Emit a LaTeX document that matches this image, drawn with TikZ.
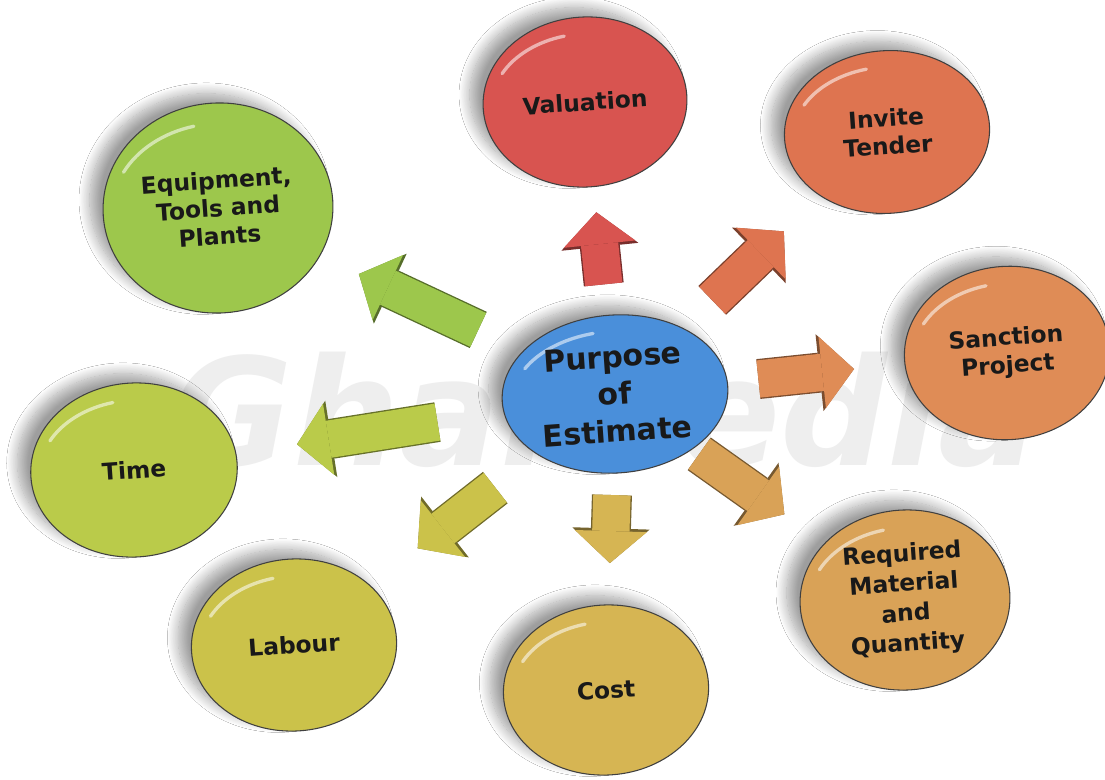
\documentclass[tikz,border=0pt]{standalone}
\usepackage{fontspec}
\setmainfont{DejaVu Sans}
\usetikzlibrary{shapes.geometric,arrows.meta,shadows.blur,calc}

\definecolor{peblue}{HTML}{4A8FDA}
\definecolor{valred}{HTML}{D85450}
\definecolor{invorange}{HTML}{DE7450}
\definecolor{sanorange}{HTML}{DF8C56}
\definecolor{reqtan}{HTML}{D9A257}
\definecolor{costgold}{HTML}{D6B553}
\definecolor{labolive}{HTML}{CBC24A}
\definecolor{timegreen}{HTML}{BACB4A}
\definecolor{eqgreen}{HTML}{9DC74C}

\tikzset{
  btn/.style={ellipse, draw=black!75, line width=0.8pt, fill=#1, align=center,
    text=black!90, inner sep=0pt, rotate=4,
    font=\bfseries\fontsize{17.5}{21}\selectfont,
    blur shadow={shadow xshift=-10pt, shadow yshift=7pt, shadow blur radius=8pt,
      shadow blur steps=16, shadow opacity=38},
    path picture={\draw[white, opacity=.55, line width=2.5pt, line cap=round]
      let \p1=(path picture bounding box.north east), \p2=(path picture bounding box.center) in
      ($(\p2)+({0.84*(\x1-\x2)*cos(100)},{0.84*(\y1-\y2)*sin(100)})$)
      arc[start angle=100, end angle=150, x radius={0.84*(\x1-\x2)}, y radius={0.84*(\y1-\y2)}];}},
  barrow/.style={draw=#1, line width=28pt, -{Triangle[length=24pt,width=54pt,line width=0pt]},
    preaction={draw=#1!55!black, line width=30pt, -{Triangle[length=26pt,width=58pt,line width=0pt]}}}
}

\begin{document}
\begin{tikzpicture}[x=0.75pt, y=-0.75pt]
\useasboundingbox (0,0) rectangle (1105,779);
\fill[white] (0,0) rectangle (1105,779);

% watermark
\node[text=gray!13, font=\fontsize{112}{112}\selectfont\itshape\bfseries] (wm) at (605,410) {GharPedia};

% outer buttons
\node[btn=valred, minimum width=153pt, minimum height=127.5pt] (val) at (585,102) {Valuation};
\node[btn=invorange, minimum width=154pt, minimum height=122pt] (inv) at (887,132) {Invite\\Tender};
\node[btn=sanorange, minimum width=154pt, minimum height=130pt] (san) at (1007,353) {Sanction\\Project};
\node[btn=reqtan, minimum width=157.5pt, minimum height=135pt, font=\bfseries\fontsize{17.5}{22.5}\selectfont] (req) at (905,600) {Required\\Material\\and\\Quantity};
\node[btn=costgold, minimum width=154pt, minimum height=127.5pt] (cost) at (606,690) {Cost};
\node[btn=labolive, minimum width=154pt, minimum height=129pt] (lab) at (294,645) {Labour};
\node[btn=timegreen, minimum width=155pt, minimum height=130.5pt] (time) at (134,470) {Time};
\node[btn=eqgreen, minimum width=172.5pt, minimum height=157.5pt] (eq) at (218,208) {Equipment,\\Tools and\\Plants};

% centre
\node[btn=peblue, minimum width=169.5pt, minimum height=118.5pt, font=\bfseries\fontsize{22.5}{28}\selectfont] (pe) at (615,394) {Purpose\\of\\Estimate};

\draw[barrow=valred, shorten <=23pt, shorten >=19pt] (pe) -- (val);
\draw[barrow=invorange, shorten <=30pt, shorten >=38pt] (pe) -- (inv);
\draw[barrow=sanorange, shorten <=23pt, shorten >=38pt] (pe) -- (san);
\draw[barrow=reqtan, shorten <=6pt, shorten >=37pt] (pe) -- (req);
\draw[barrow=costgold, shorten <=16pt, shorten >=31pt] (pe) -- (cost);
\draw[barrow=labolive, shorten <=40pt, shorten >=45pt] (pe) -- (lab);
\draw[barrow=timegreen, shorten <=50pt, shorten >=46pt] (pe) -- (time);
\draw[barrow=eqgreen, shorten <=37pt, shorten >=32pt] (pe) -- (eq);
\end{tikzpicture}
\end{document}
